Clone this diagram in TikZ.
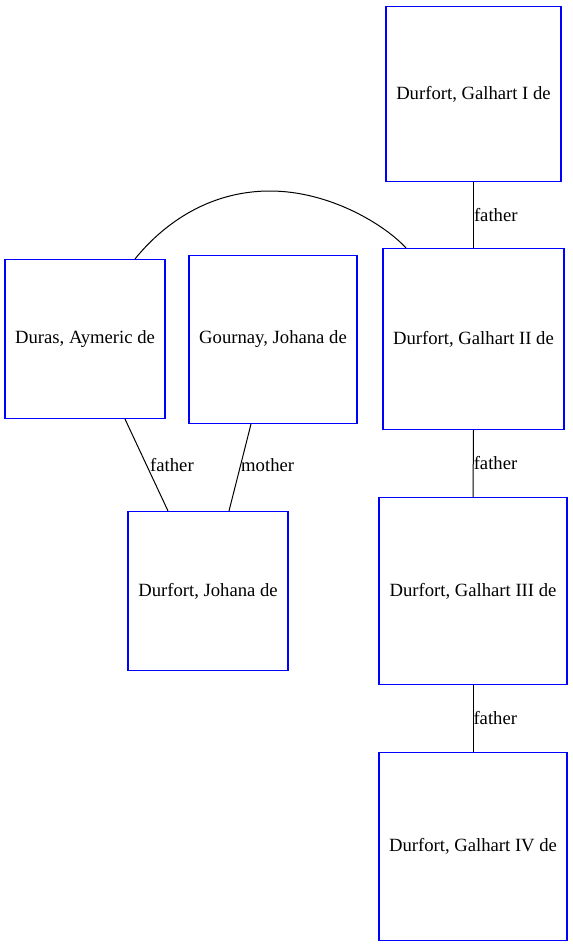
\documentclass[tikz,border=0pt]{standalone}
\usepackage{fontspec}
\setmainfont{Liberation Serif}
\begin{document}
\begin{tikzpicture}[x=1pt,y=-1pt,
  person/.style={draw=blue,line width=1.1pt,rectangle,inner sep=0pt,font=\fontsize{18.67}{21}\selectfont},
  rel/.style={line width=1pt,black},
  lbl/.style={anchor=west,inner sep=0pt,font=\fontsize{18.67}{21}\selectfont}]
\useasboundingbox (0,0) rectangle (573,946);
\node[person,minimum width=175pt,minimum height=175pt] (g1) at (473.5,94) {Durfort, Galhart I de};
\node[person,minimum width=181pt,minimum height=181pt] (g2) at (473.5,339) {Durfort, Galhart II de};
\node[person,minimum width=160pt,minimum height=159pt] (duras) at (85,339) {Duras, Aymeric de};
\node[person,minimum width=168pt,minimum height=168pt] (gournay) at (273,339.5) {Gournay, Johana de};
\node[person,minimum width=160pt,minimum height=159pt] (johana) at (208,591) {Durfort, Johana de};
\node[person,minimum width=188pt,minimum height=187pt] (g3) at (473,591) {Durfort, Galhart III de};
\node[person,minimum width=188pt,minimum height=188pt] (g4) at (473,846.5) {Durfort, Galhart IV de};

\draw[rel] (g1.south) -- node[lbl,pos=0.5] {father} (g2.north);
\draw[rel] (g2.south) -- node[lbl,pos=0.5] {father} (g3.north);
\draw[rel] (g3.south) -- node[lbl,pos=0.5] {father} (g4.north);
\draw[rel] ([xshift=40pt]duras.south) -- ([xshift=-40pt]johana.north);
\draw[rel] ([xshift=-22pt]gournay.south) -- ([xshift=21pt]johana.north);
\node[lbl] (lf) at (150,465) {father};
\node[lbl] (lm) at (241,465) {mother};
\draw[rel] ([xshift=50pt]duras.north) .. controls (160,228) and (205,191) .. (270,191) .. controls (330,191) and (385,225) .. ([xshift=-67.5pt]g2.north);
\end{tikzpicture}
\end{document}
